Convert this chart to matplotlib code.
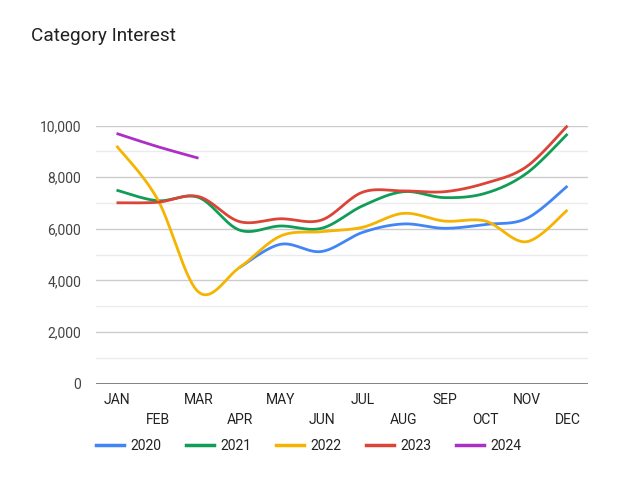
import numpy as np
import matplotlib
matplotlib.use("Agg")
import matplotlib.pyplot as plt
from matplotlib.lines import Line2D

plt.rcParams['font.family'] = ['Roboto', 'DejaVu Sans']

months = ["JAN", "FEB", "MAR", "APR", "MAY", "JUN", "JUL", "AUG", "SEP", "OCT", "NOV", "DEC"]
years = ["2020", "2021", "2022", "2023", "2024"]

s2020 = [None, None, None, 4500, 5400, 5120, 5860, 6190, 6020, 6170, 6400, 7660]
s2021 = [7500, 7090, 7220, 5950, 6110, 6020, 6890, 7440, 7210, 7380, 8150, 9680]
s2022 = [9220, 7150, 3550, 4500, 5720, 5890, 6060, 6600, 6300, 6300, 5500, 6730]
s2023 = [7010, 7030, 7250, 6280, 6390, 6340, 7420, 7470, 7440, 7770, 8410, 10000]
s2024 = [9700, 9190, 8740, None, None, None, None, None, None, None, None, None]

series = [s2020, s2021, s2022, s2023, s2024]
colors = ["#4285F4", "#0F9D58", "#F4B400", "#DB4437", "#AB30C4"]


def smooth(xs, ys, n=30):
    xs = np.asarray(xs, float)
    ys = np.asarray(ys, float)
    px = np.concatenate([[xs[0]], xs, [xs[-1]]])
    py = np.concatenate([[ys[0]], ys, [ys[-1]]])
    outx, outy = [], []
    t = np.linspace(0, 1, n)
    for i in range(1, len(px) - 2):
        p0x, p1x, p2x, p3x = px[i - 1], px[i], px[i + 1], px[i + 2]
        p0y, p1y, p2y, p3y = py[i - 1], py[i], py[i + 1], py[i + 2]
        c1x = p1x + (p2x - p0x) / 6
        c1y = p1y + (p2y - p0y) / 6
        c2x = p2x - (p3x - p1x) / 6
        c2y = p2y - (p3y - p1y) / 6
        bx = (1 - t) ** 3 * p1x + 3 * (1 - t) ** 2 * t * c1x + 3 * (1 - t) * t ** 2 * c2x + t ** 3 * p2x
        by = (1 - t) ** 3 * p1y + 3 * (1 - t) ** 2 * t * c1y + 3 * (1 - t) * t ** 2 * c2y + t ** 3 * p2y
        outx.extend(bx)
        outy.extend(by)
    return np.array(outx), np.array(outy)


W, H = 629, 503
fig = plt.figure(figsize=(W / 100, H / 100), dpi=100)
left, right, top, bottom = 96, 588, 125.7, 383.5
ax = fig.add_axes([left / W, 1 - bottom / H, (right - left) / W, (bottom - top) / H])

ax.set_xlim(-0.5, 11.5)
ax.set_ylim(0, 10000)

for v in range(1000, 10001, 1000):
    if v % 2000 == 0:
        ax.axhline(v, color="#cccccc", lw=1, zorder=1)
    else:
        ax.axhline(v, color="#ebebeb", lw=1, zorder=1)
ax.axhline(0, color="#777777", lw=2, zorder=3)

for s, c in zip(series, colors):
    idx = [i for i, v in enumerate(s) if v is not None]
    vals = [s[i] for i in idx]
    sx, sy = smooth(idx, vals)
    ax.plot(sx, sy, color=c, lw=2, zorder=4, clip_on=False, solid_capstyle='butt')

for sp in ax.spines.values():
    sp.set_visible(False)
ax.tick_params(length=0)
ax.set_xticks([])
ax.set_yticks(range(0, 10001, 2000))
ax.set_yticklabels([f"{v:,}" for v in range(0, 10001, 2000)], fontsize=10, color="#444444")
ax.tick_params(axis='y', pad=10.8)

for i, m in enumerate(months):
    yoff = 400.5 if i % 2 == 0 else 419.5
    fig.text((left + (i + 0.5) * (right - left) / 12) / W, 1 - yoff / H, m,
             ha='center', va='center', fontsize=10, color="#222222")

fig.text(31 / W, 1 - 36 / H, "Category Interest", ha='left', va='center', fontsize=13.7, color="#222222")

lx0 = 96
for k, (yr, c) in enumerate(zip(years, colors)):
    x = lx0 + k * 90
    fig.add_artist(Line2D([x / W, (x + 28) / W], [1 - 445 / H, 1 - 445 / H], color=c, lw=2.5,
                          transform=fig.transFigure))
    fig.text((x + 34) / W, 1 - 446 / H, yr, ha='left', va='center', fontsize=10, color="#222222")

fig.savefig("out.png", dpi=100, facecolor="white")
